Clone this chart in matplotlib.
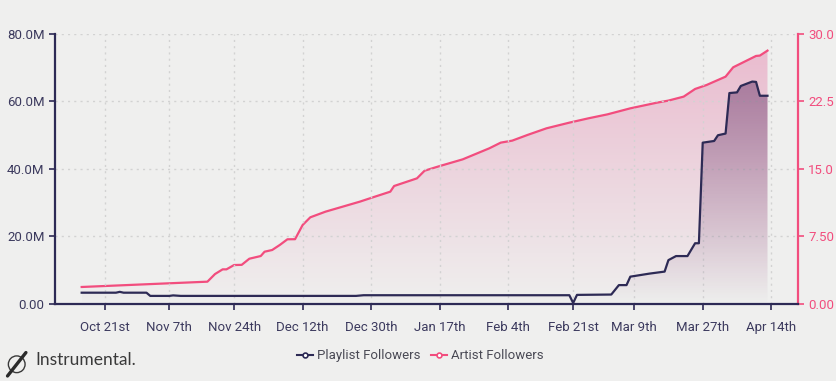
import datetime as dt

import matplotlib
matplotlib.use("Agg")
import matplotlib.dates as mdates
import matplotlib.pyplot as plt
import numpy as np
from matplotlib.lines import Line2D
from matplotlib.patches import Circle

# ---- data ----------------------------------------------------------------- #
PLAYLIST_DATES = [
    "2018-10-15", "2018-10-24", "2018-10-25", "2018-10-26", "2018-11-01",
    "2018-11-02", "2018-11-07", "2018-11-08", "2018-11-10", "2018-12-26",
    "2018-12-28", "2019-02-19", "2019-02-20", "2019-02-21", "2019-02-22",
    "2019-03-03", "2019-03-05", "2019-03-07", "2019-03-08", "2019-03-13",
    "2019-03-17", "2019-03-18", "2019-03-20", "2019-03-23", "2019-03-25",
    "2019-03-26", "2019-03-27", "2019-03-30", "2019-03-31", "2019-04-02",
    "2019-04-03", "2019-04-05", "2019-04-06", "2019-04-09", "2019-04-10",
    "2019-04-11", "2019-04-13",
]
PLAYLIST_M = [
    3.35, 3.35, 3.6, 3.35, 3.35,
    2.4, 2.4, 2.55, 2.4, 2.4,
    2.6, 2.6, 2.6, 0.3, 2.7,
    2.8, 5.6, 5.6, 8.1, 9.0,
    9.6, 13.0, 14.2, 14.2, 18.0,
    18.0, 47.8, 48.3, 50.0, 50.5,
    62.5, 62.7, 64.6, 65.9, 65.8,
    61.7, 61.7,
]

ARTIST_DATES = [
    "2018-10-15", "2018-11-17", "2018-11-19", "2018-11-21", "2018-11-22",
    "2018-11-24", "2018-11-26", "2018-11-28", "2018-12-01", "2018-12-02",
    "2018-12-04", "2018-12-06", "2018-12-08", "2018-12-10", "2018-12-12",
    "2018-12-14", "2018-12-18", "2018-12-24", "2018-12-27", "2018-12-31",
    "2019-01-04", "2019-01-05", "2019-01-11", "2019-01-13", "2019-01-17",
    "2019-01-23", "2019-01-30", "2019-02-02", "2019-02-05", "2019-02-09",
    "2019-02-14", "2019-02-20", "2019-02-25", "2019-03-02", "2019-03-08",
    "2019-03-15", "2019-03-18", "2019-03-22", "2019-03-25", "2019-03-28",
    "2019-04-02", "2019-04-04", "2019-04-07", "2019-04-10", "2019-04-11",
    "2019-04-13",
]
ARTIST_K = [
    1.89, 2.48, 3.33, 3.85, 3.85,
    4.33, 4.35, 5.03, 5.33, 5.81,
    6.0, 6.56, 7.19, 7.2, 8.78,
    9.63, 10.26, 11.0, 11.37, 11.93,
    12.48, 13.11, 13.96, 14.81, 15.33,
    16.07, 17.3, 17.93, 18.15, 18.78,
    19.52, 20.15, 20.63, 21.07, 21.74,
    22.37, 22.6, 23.04, 23.89, 24.33,
    25.26, 26.3, 26.93, 27.56, 27.6,
    28.15,
]

TICK_DATES = ["2018-10-21", "2018-11-07", "2018-11-24", "2018-12-12", "2018-12-30",
              "2019-01-17", "2019-02-04", "2019-02-21", "2019-03-09", "2019-03-27",
              "2019-04-14"]
TICK_LABELS = ["Oct 21st", "Nov 7th", "Nov 24th", "Dec 12th", "Dec 30th", "Jan 17th",
               "Feb 4th", "Feb 21st", "Mar 9th", "Mar 27th", "Apr 14th"]
LEFT_TICKS = [0, 20, 40, 60, 80]
LEFT_LABELS = ["0.00", "20.0M", "40.0M", "60.0M", "80.0M"]
RIGHT_TICKS = [0, 7.5, 15, 22.5, 30]
RIGHT_LABELS = ["0.00", "7.50", "15.0", "22.5", "30.0"]

BG = "#efefee"
NAVY = "#2d2a55"
PINK = "#f24d7e"
GRID = "#d2d2d2"
LABEL = "#3c3a5e"

plt.rcParams["font.family"] = ["Roboto", "DejaVu Sans"]


def todate(s):
    return dt.datetime.strptime(s, "%Y-%m-%d")


def gradient_fill(ax, x, y, rgb, a_top, a_bot, ytop, z):
    # vertical alpha gradient clipped to the area under the line
    poly = ax.fill_between(x, y, 0, color="none", lw=0, zorder=z)
    grad = np.zeros((256, 1, 4))
    grad[..., :3] = rgb
    grad[..., 3] = np.linspace(a_top, a_bot, 256)[:, None]
    xn = mdates.date2num(x)
    im = ax.imshow(grad, aspect="auto", origin="upper", zorder=z,
                   extent=[xn.min(), xn.max(), 0, ytop])
    im.set_clip_path(poly.get_paths()[0], transform=ax.transData)


pd_x = [todate(d) for d in PLAYLIST_DATES]
ar_x = [todate(d) for d in ARTIST_DATES]

fig = plt.figure(figsize=(8.36, 3.81), dpi=100, facecolor=BG)
rect = [0.0658, 0.2021, 0.8887, 0.7087]
ax2 = fig.add_axes(rect)                 # artist followers (right scale), behind
ax = fig.add_axes(rect, sharex=ax2)      # playlist followers (left scale), in front
ax2.set_facecolor(BG)
ax.patch.set_visible(False)

# artist followers
gradient_fill(ax2, ar_x, ARTIST_K, (0.90, 0.55, 0.70), 0.55, 0.0, 30, 1)
ax2.plot(ar_x, ARTIST_K, color=PINK, lw=1.6, zorder=3)
ax2.set_ylim(0, 30)

# playlist followers
gradient_fill(ax, pd_x, PLAYLIST_M, (0.42, 0.22, 0.42), 0.62, 0.0, 80, 2)
ax.plot(pd_x, PLAYLIST_M, color=NAVY, lw=1.6, zorder=4)
ax.set_ylim(0, 80)

ax.set_xlim(mdates.date2num(todate("2018-10-08")), mdates.date2num(todate("2019-04-21")))

# left axis / grid
ax.set_xticks([todate(d) for d in TICK_DATES], TICK_LABELS)
ax.set_yticks(LEFT_TICKS, LEFT_LABELS)
ax.grid(True, color=GRID, linestyle=(0, (1.5, 3)), linewidth=1.0)
ax.spines[["top", "right"]].set_visible(False)
for s in ("left", "bottom"):
    ax.spines[s].set_color(NAVY)
    ax.spines[s].set_linewidth(1.6)
ax.tick_params(colors=NAVY, labelcolor=LABEL, labelsize=9.5, length=4, width=1.2)
ax.tick_params(axis="x", pad=8)

# right axis
ax2.yaxis.tick_right()
ax2.set_yticks(RIGHT_TICKS, RIGHT_LABELS)
ax2.tick_params(axis="y", colors=PINK, labelcolor=PINK, labelsize=9.5, length=4, width=1.2)
ax2.tick_params(axis="x", bottom=False, labelbottom=False)
for s in ("top", "left", "bottom"):
    ax2.spines[s].set_visible(False)
ax2.spines["right"].set_color(PINK)
ax2.spines["right"].set_linewidth(1.6)

# legend
handles = [
    Line2D([], [], color=NAVY, lw=1.5, marker="o", ms=3.5, mfc="white", mew=1.2),
    Line2D([], [], color=PINK, lw=1.5, marker="o", ms=3.5, mfc="white", mew=1.2),
]
fig.legend(handles, ["Playlist Followers", "Artist Followers"], loc="center",
           bbox_to_anchor=(0.503, 0.066), ncol=2, frameon=False, fontsize=9.5,
           labelcolor="#4a4a55", handlelength=1.2, handletextpad=0.3, columnspacing=0.8)

# logo
lax = fig.add_axes([0.0, 0.0, 0.04, 0.0878])
lax.set_xlim(-1, 1)
lax.set_ylim(-1, 1)
lax.set_aspect("equal")
lax.axis("off")
lax.add_patch(Circle((0.0, 0.0), 0.5, fill=False, ec="#3a3a3a", lw=1.0))
lax.plot([-0.55, 0.55], [-0.7, 0.7], color="#2b2b2b", lw=2.4, solid_capstyle="round")
fig.text(0.042, 0.056, "Instrumental.", fontsize=12.5, color="#3a3a3a",
         family=["Lato", "DejaVu Sans"], va="center")

fig.savefig("out.png", dpi=100, facecolor=BG)
